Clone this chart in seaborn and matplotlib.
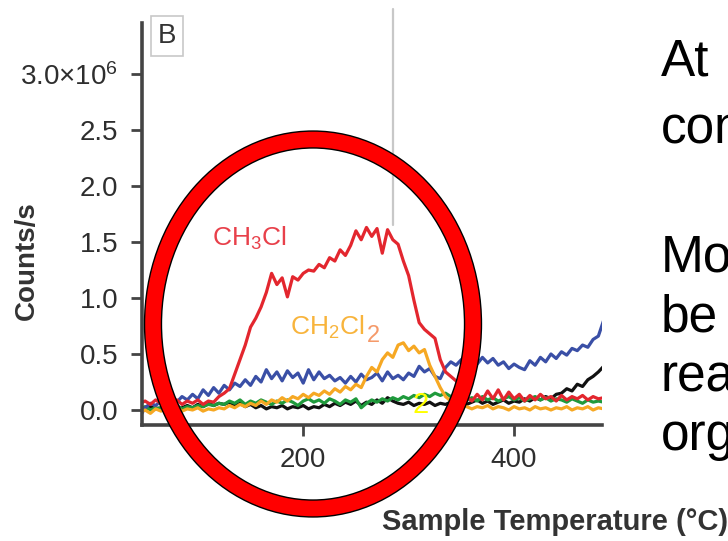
import pandas as pd
import matplotlib.pyplot as plt
import seaborn as sns
from matplotlib.patches import Ellipse

# ------------------------------------------
# Data (counts/s in units of 1e6)
# ------------------------------------------
temps = list(range(45, 490, 5))

ch3cl = [0.06, 0.08, 0.05, 0.09, 0.06, 0.10, 0.07, 0.09, 0.05, 0.08,
         0.06, 0.09, 0.05, 0.08, 0.07, 0.12, 0.15, 0.19, 0.32, 0.45,
         0.58, 0.74, 0.82, 0.92, 1.05, 1.22, 1.12, 1.18, 1.01, 1.19,
         1.16, 1.22, 1.25, 1.24, 1.30, 1.27, 1.36, 1.33, 1.43, 1.38,
         1.47, 1.60, 1.52, 1.63, 1.55, 1.62, 1.40, 1.61, 1.52, 1.48,
         1.33, 1.20, 0.98, 0.78, 0.72, 0.68, 0.64, 0.45, 0.34, 0.30,
         0.26, 0.20, 0.12, 0.08, 0.14, 0.09, 0.17, 0.10, 0.18, 0.09,
         0.16, 0.10, 0.14, 0.08, 0.13, 0.09, 0.14, 0.10, 0.12, 0.08,
         0.13, 0.09, 0.12, 0.10, 0.13, 0.09, 0.12, 0.10, 0.11]

blue_trace = [-0.06, 0.02, 0.06, 0.04, 0.08, 0.05, 0.10, 0.07, 0.12, 0.09,
              0.14, 0.10, 0.18, 0.13, 0.20, 0.15, 0.22, 0.18, 0.24, 0.21,
              0.27, 0.22, 0.30, 0.25, 0.36, 0.28, 0.34, 0.26, 0.35, 0.29,
              0.33, 0.24, 0.36, 0.27, 0.34, 0.28, 0.31, 0.26, 0.29, 0.24,
              0.30, 0.25, 0.32, 0.27, 0.29, 0.33, 0.26, 0.34, 0.28, 0.31,
              0.27, 0.33, 0.30, 0.39, 0.34, 0.37, 0.30, 0.28, 0.38, 0.43,
              0.40, 0.45, 0.39, 0.44, 0.41, 0.47, 0.42, 0.46, 0.40, 0.43,
              0.37, 0.41, 0.38, 0.36, 0.44, 0.40, 0.47, 0.43, 0.50, 0.46,
              0.52, 0.49, 0.55, 0.53, 0.58, 0.56, 0.63, 0.66, 0.80]

ch2cl2 = [-0.02, 0.00, -0.03, 0.01, -0.01, 0.02, 0.00, 0.03, -0.01, 0.01,
          0.00, 0.02, -0.01, 0.01, 0.00, 0.02, 0.01, 0.04, 0.02, 0.05,
          0.03, 0.06, 0.04, 0.08, 0.05, 0.09, 0.07, 0.11, 0.08, 0.12,
          0.10, 0.14, 0.11, 0.15, 0.13, 0.17, 0.14, 0.19, 0.16, 0.21,
          0.18, 0.23, 0.20, 0.30, 0.38, 0.34, 0.45, 0.51, 0.47, 0.58,
          0.60, 0.53, 0.57, 0.51, 0.54, 0.40, 0.30, 0.20, 0.12, 0.08,
          0.06, 0.04, 0.03, 0.01, 0.03, 0.02, 0.04, 0.01, 0.03, 0.02,
          0.00, 0.03, 0.01, 0.02, 0.00, 0.03, 0.01, 0.02, 0.00, 0.02,
          0.01, 0.03, 0.00, 0.02, 0.01, 0.03, 0.00, 0.02, 0.01]

green_trace = [0.01, 0.03, 0.00, 0.02, 0.01, 0.03, 0.02, 0.04, 0.01, 0.03,
               0.02, 0.04, 0.03, 0.05, 0.04, 0.06, 0.05, 0.08, 0.06, 0.09,
               0.05, 0.08, 0.06, 0.09, 0.07, 0.05, 0.08, 0.06, 0.09, 0.07,
               0.04, 0.08, 0.10, 0.07, 0.09, 0.06, 0.10, 0.08, 0.05, 0.09,
               0.07, 0.10, 0.02, 0.06, 0.09, 0.07, 0.10, 0.08, 0.11, 0.09,
               0.12, 0.10, 0.13, 0.11, 0.14, 0.12, 0.15, 0.13, 0.15, 0.12,
               0.10, 0.12, 0.09, 0.11, 0.08, 0.12, 0.09, 0.11, 0.08, 0.10,
               0.12, 0.09, 0.11, 0.08, 0.10, 0.12, 0.09, 0.11, 0.08, 0.10,
               0.09, 0.07, 0.10, 0.08, 0.06, 0.09, 0.07, 0.08, 0.07]

black_trace = [0.02, 0.00, 0.03, 0.01, 0.02, 0.00, 0.03, 0.01, 0.02, 0.04,
               0.02, 0.05, 0.03, 0.06, 0.04, 0.06, 0.05, 0.07, 0.04, 0.06,
               0.03, 0.05, 0.02, 0.04, 0.01, 0.03, 0.02, 0.04, 0.01, 0.03,
               0.02, 0.04, 0.01, 0.03, 0.02, 0.05, 0.03, 0.06, 0.04, 0.07,
               0.05, 0.08, 0.04, 0.07, 0.05, 0.09, 0.06, 0.11, 0.08, 0.06,
               0.05, 0.07, 0.04, 0.06, 0.05, 0.07, 0.04, 0.06, 0.05, 0.07,
               0.06, 0.08, 0.05, 0.07, 0.09, 0.06, 0.08, 0.05, 0.07, 0.09,
               0.06, 0.08, 0.07, 0.10, 0.08, 0.11, 0.09, 0.12, 0.10, 0.14,
               0.15, 0.19, 0.17, 0.23, 0.21, 0.27, 0.30, 0.34, 0.39]

ytick_vals = [0.0, 0.5, 1.0, 1.5, 2.0, 2.5, 3.0]
ytick_labels = ['0.0', '0.5', '1.0', '1.5', '2.0', '2.5', '3.0×10$^6$']
xtick_vals = [200, 400]

series_order = ['black', 'green', 'blue', 'CH2Cl2', 'CH3Cl']
colors = {'CH3Cl': '#e3262e', 'CH2Cl2': '#f6a823', 'blue': '#3a4fa6',
          'green': '#1f9a3c', 'black': '#111111'}

df = pd.DataFrame({'temp': temps, 'CH3Cl': ch3cl, 'blue': blue_trace,
                   'CH2Cl2': ch2cl2, 'green': green_trace, 'black': black_trace})
long_df = df.melt(id_vars='temp', var_name='species', value_name='counts')

# ------------------------------------------
# Plot
# ------------------------------------------
sns.set_style('ticks')
plt.rcParams['font.family'] = ['Liberation Sans', 'DejaVu Sans']
plt.rcParams['mathtext.default'] = 'regular'

fig = plt.figure(figsize=(7.28, 5.41), dpi=100)
ax = fig.add_axes([0.195, 0.2144, 0.632, 0.743])

sns.lineplot(data=long_df, x='temp', y='counts', hue='species',
             hue_order=series_order, palette=colors, linewidth=2.3,
             legend=False, estimator=None, sort=False, ax=ax)

ax.set_xlim(47, 483.5)
ax.set_ylim(-0.134, 3.455)
ax.set_xticks(xtick_vals)
ax.set_yticks(ytick_vals)
ax.set_yticklabels(ytick_labels)
ax.set_xlabel('')
ax.set_ylabel('')
for side in ['top', 'right']:
    ax.spines[side].set_visible(False)
for side in ['left', 'bottom']:
    ax.spines[side].set_color('#444444')
    ax.spines[side].set_linewidth(2.6)
ax.tick_params(axis='both', length=8, width=2, color='#444444',
               labelcolor='#2e2e2e', labelsize=20)
ax.tick_params(axis='y', pad=9)
ax.tick_params(axis='x', pad=8)

# thin grey marker line
ax.axvline(285.3, ymin=0.497, ymax=1.035, color='#c8c8c8', lw=1.6,
           clip_on=False, zorder=1)

# curve labels
ax.text(113.7, 1.47, 'CH$_3$Cl', color='#e8404a', fontsize=19,
        ha='left', va='baseline')
ax.text(187.7, 0.67, 'CH$_2$Cl', color='#f8b43c', fontsize=19,
        ha='left', va='baseline')
ax.text(260.5, 0.607, '2', color='#f59a6a', fontsize=17,
        ha='left', va='baseline')
ax.text(304, -0.03, '2', color='#ffff00', fontsize=21,
        ha='left', va='baseline', zorder=5)

# panel letter
fig.text(167 / 728, 1 - 36 / 541, 'B', fontsize=20, color='#333333',
         ha='center', va='center',
         bbox=dict(boxstyle='square,pad=0.25', fc='white', ec='#c8c8c8', lw=1.2))

# axis labels
fig.text(27 / 728, 1 - 261 / 541, 'Counts/s', rotation=90, fontsize=20,
         fontweight='bold', color='#333333', ha='center', va='center')
fig.text(382 / 728, 1 - 530 / 541, 'Sample Temperature (°C)', fontsize=21,
         fontweight='bold', color='#333333', ha='left', va='baseline')

# highlight ring
fig.patches.append(Ellipse((313 / 728, 1 - 324 / 541), 320 / 728, 369 / 541,
                           transform=fig.transFigure, fill=False,
                           ec='black', lw=13.2, zorder=10))
fig.patches.append(Ellipse((313 / 728, 1 - 324 / 541), 320 / 728, 369 / 541,
                           transform=fig.transFigure, fill=False,
                           ec='#ff0000', lw=11.2, zorder=11))

# slide text on the right (cut off by the slide edge, as in the source)
slide_lines = [('At', 75), ('con', 144), ('Mo', 272), ('be', 332),
               ('rea', 391), ('org', 450)]
for word, base in slide_lines:
    fig.text(661 / 728, 1 - base / 541, word, fontsize=37, color='black',
             ha='left', va='baseline')

fig.savefig('out.png', dpi=100)
